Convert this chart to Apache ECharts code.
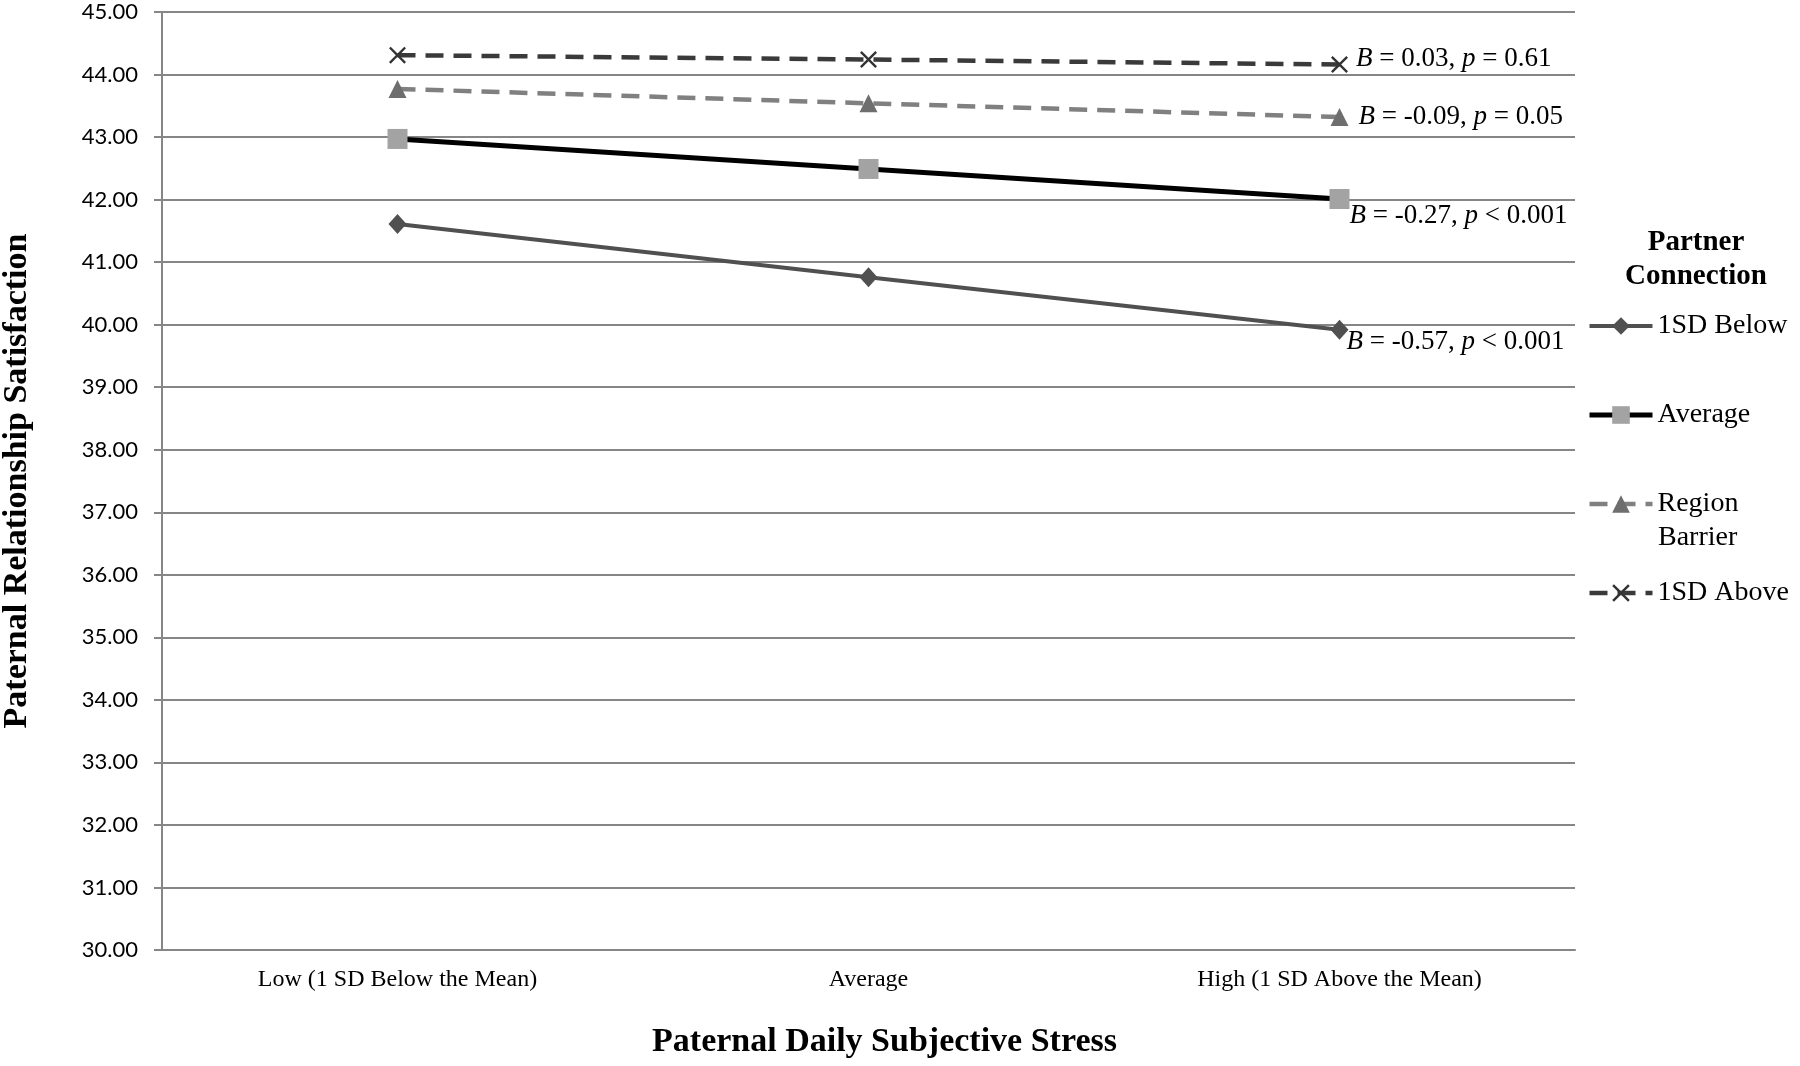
<!DOCTYPE html>
<html>
<head>
<meta charset="utf-8">
<script src="https://cdn.jsdelivr.net/npm/echarts@6/dist/echarts.min.js"></script>
<style>
  html, body { margin: 0; padding: 0; background: #fff; }
  #chart { width: 1800px; height: 1066px; }
</style>
</head>
<body>
<div id="chart"></div>
<script>
// x categories
const categories = ["Low (1 SD Below the Mean)", "Average", "High (1 SD Above the Mean)"];
// series values
const below1sd = [41.61, 40.76, 39.92];
const average = [42.97, 42.49, 42.01];
const regionBarrier = [43.77, 43.54, 43.32];
const above1sd = [44.31, 44.24, 44.16];
// slope annotations
const bValues = ["-0.57", "-0.27", "-0.09", "0.03"];
const pValues = ["< 0.001", "< 0.001", "= 0.05", "= 0.61"];

const serif = '"Liberation Serif", "Times New Roman", serif';
const chart = echarts.init(document.getElementById("chart"));

const endLabel = (idx, offset) => ({
  show: true,
  position: "right",
  distance: 6,
  offset: offset,
  formatter: "{i|B} = " + bValues[idx] + ", {i|p} " + pValues[idx],
  fontFamily: serif,
  fontSize: 27,
  color: "#000",
  rich: { i: { fontFamily: serif, fontStyle: "italic", fontSize: 27, color: "#000" } }
});

const withLabel = (vals, idx, offset) =>
  vals.map((v, i) => (i === vals.length - 1 ? { value: v, label: endLabel(idx, offset) } : v));

const xShape = "path://M0,1L1,0L5,4L9,0L10,1L6,5L10,9L9,10L5,6L1,10L0,9L4,5Z";

let option = {
  animation: false,
  grid: { left: 162, right: 225, top: 12, bottom: 116, outerBoundsMode: "none" },
  xAxis: {
    type: "category",
    data: categories,
    boundaryGap: true,
    axisLine: { lineStyle: { color: "#868686", width: 2 } },
    axisTick: { show: false },
    axisLabel: { fontFamily: serif, fontSize: 24, color: "#000", margin: 18 },
    name: "Paternal Daily Subjective Stress",
    nameLocation: "middle",
    nameGap: 75,
    nameTextStyle: { fontFamily: serif, fontWeight: "bold", fontSize: 34, color: "#000", padding: [0, 0, 0, 32] }
  },
  yAxis: {
    type: "value",
    min: 30,
    max: 45,
    interval: 1,
    axisLine: { show: true, lineStyle: { color: "#868686", width: 2 } },
    axisTick: { show: true, inside: false, length: 8, lineStyle: { color: "#868686", width: 2 } },
    splitLine: { lineStyle: { color: "#868686", width: 2 } },
    axisLabel: {
      fontFamily: "Lato, sans-serif",
      fontSize: 22,
      color: "#000",
      margin: 24,
      formatter: (v) => v.toFixed(2)
    },
    name: "Paternal Relationship Satisfaction",
    nameLocation: "middle",
    nameGap: 128,
    nameTextStyle: { fontFamily: serif, fontWeight: "bold", fontSize: 34, color: "#000" }
  },
  legend: {
    orient: "vertical",
    left: 1582,
    top: 307,
    itemWidth: 63,
    itemHeight: 22,
    itemGap: 61,
    lineStyle: { width: "inherit" },
    textStyle: { fontFamily: serif, fontSize: 28, color: "#000" },
    formatter: (name) => (name === "Region Barrier" ? "Region" : name),
    data: ["1SD Below", "Average", "Region Barrier", "1SD Above"]
  },
  graphic: [
    {
      type: "text",
      x: 1696,
      y: 260,
      style: {
        text: "Partner\nConnection",
        fontFamily: serif,
        fontWeight: "bold",
        fontSize: 29,
        lineHeight: 34,
        fill: "#000",
        align: "center",
        verticalAlign: "middle"
      }
    },
    {
      type: "text",
      x: 1658,
      y: 538,
      style: {
        text: "Barrier",
        fontFamily: serif,
        fontSize: 28,
        fill: "#000",
        verticalAlign: "middle"
      }
    }
  ],
  series: [
    {
      name: "1SD Below",
      type: "line",
      data: withLabel(below1sd, 0, [-8, 12]),
      symbol: "diamond",
      symbolSize: [18, 20],
      lineStyle: { color: "#505050", width: 4 },
      itemStyle: { color: "#505050" }
    },
    {
      name: "Average",
      type: "line",
      data: withLabel(average, 1, [-6, 17]),
      symbol: "rect",
      symbolSize: 20,
      lineStyle: { color: "#000", width: 5 },
      itemStyle: { color: "#a3a3a3" }
    },
    {
      name: "Region Barrier",
      type: "line",
      data: withLabel(regionBarrier, 2, [4, 0]),
      symbol: "triangle",
      symbolSize: 18,
      lineStyle: { color: "#808080", width: 4.5, type: [18, 10] },
      itemStyle: { color: "#6e6e6e" }
    },
    {
      name: "1SD Above",
      type: "line",
      data: withLabel(above1sd, 3, [2, -6]),
      symbol: xShape,
      symbolSize: 17,
      lineStyle: { color: "#3a3a3a", width: 4.5, type: [18, 10] },
      itemStyle: { color: "#333" }
    }
  ]
};
chart.setOption(option, true);
</script>
</body>
</html>
